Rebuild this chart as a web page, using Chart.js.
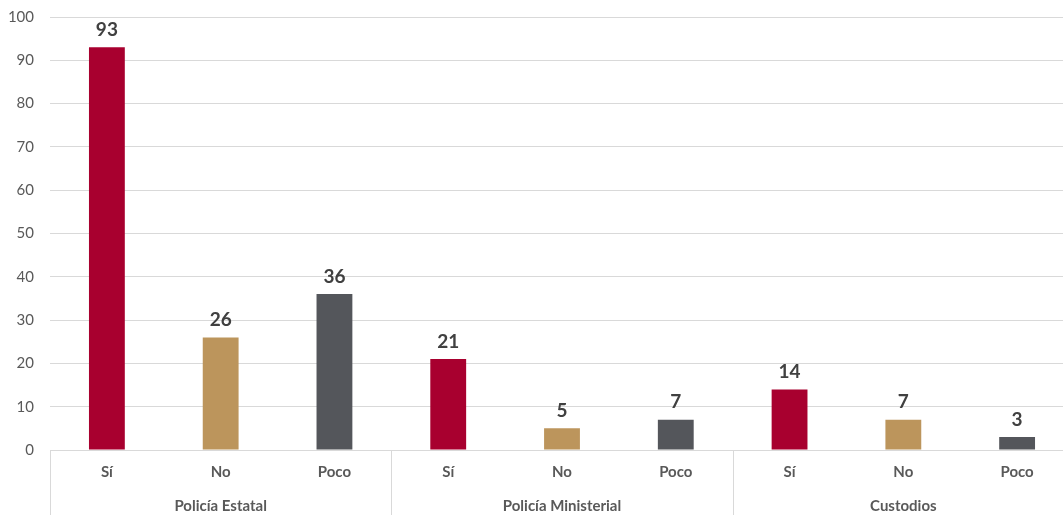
<!DOCTYPE html>
<html>
<head>
<meta charset="utf-8">
<script src="https://cdn.jsdelivr.net/npm/chart.js@4"></script>
<style>
  html, body { margin: 0; padding: 0; background: #fff; overflow: hidden; }
  #wrap { width: 1063px; height: 515px; overflow: hidden; }
</style>
</head>
<body>
<div id="wrap"><canvas id="grafica" width="1074" height="515"></canvas></div>
<script>
const categorias = ['Sí', 'No', 'Poco', 'Sí', 'No', 'Poco', 'Sí', 'No', 'Poco'];
const grupos = ['Policía Estatal', 'Policía Ministerial', 'Custodios'];
const valores = [93, 26, 36, 21, 5, 7, 14, 7, 3];
const colores = ['#A8002F', '#BC955C', '#54565B', '#A8002F', '#BC955C', '#54565B', '#A8002F', '#BC955C', '#54565B'];
const ticksY = [0, 10, 20, 30, 40, 50, 60, 70, 80, 90, 100];

const fuente = 'Lato, "Open Sans", sans-serif';

// etiquetas de valor encima de cada barra
const etiquetasValor = {
    id: 'etiquetasValor',
    afterDatasetsDraw(chart) {
        const ctx = chart.ctx;
        const meta = chart.getDatasetMeta(0);
        ctx.save();
        ctx.font = 'bold 19px ' + fuente;
        ctx.fillStyle = '#404040';
        ctx.textAlign = 'center';
        ctx.textBaseline = 'bottom';
        meta.data.forEach((barra, i) => {
            ctx.fillText(valores[i], barra.x, barra.y - 8);
        });
        ctx.restore();
    }
};

// eje x de dos niveles: categoría + grupo, con separadores
const ejeAgrupado = {
    id: 'ejeAgrupado',
    afterDraw(chart) {
        const ctx = chart.ctx;
        const x = chart.scales.x;
        const area = chart.chartArea;
        const abajo = chart.height;
        const paso = x.getPixelForValue(1) - x.getPixelForValue(0);
        ctx.save();
        ctx.strokeStyle = '#D9D9D9';
        ctx.lineWidth = 1;
        for (let g = 0; g <= grupos.length; g++) {
            const px = Math.round(x.getPixelForValue(g * 3) - paso / 2) + 0.5;
            ctx.beginPath();
            ctx.moveTo(px, area.bottom);
            ctx.lineTo(px, abajo);
            ctx.stroke();
        }
        ctx.fillStyle = '#595959';
        ctx.textAlign = 'center';
        ctx.textBaseline = 'middle';
        ctx.font = 'bold 15px ' + fuente;
        categorias.forEach((c, i) => {
            ctx.fillText(c, x.getPixelForValue(i), area.bottom + 22);
        });
        grupos.forEach((g, i) => {
            ctx.fillText(g, x.getPixelForValue(i * 3 + 1), area.bottom + 56);
        });
        ctx.restore();
    }
};

new Chart(document.getElementById('grafica').getContext('2d'), {
    type: 'bar',
    data: {
        labels: categorias,
        datasets: [{
            data: valores,
            backgroundColor: colores,
            barPercentage: 0.63,
            categoryPercentage: 0.5
        }]
    },
    options: {
        responsive: false,
        animation: false,
        layout: { padding: { top: 17, bottom: 57, right: 0, left: 0 } },
        plugins: { legend: { display: false }, tooltip: { enabled: false } },
        scales: {
            x: {
                grid: { display: false },
                border: { display: false },
                ticks: { display: false }
            },
            y: {
                min: 0,
                max: 100,
                afterBuildTicks: (eje) => { eje.ticks = ticksY.map(v => ({ value: v })); },
                afterFit: (eje) => {
                    eje.width = 50;
                    eje.paddingTop = 0;
                    eje.paddingBottom = 0;
                },
                grid: { color: '#D9D9D9', lineWidth: 1, drawTicks: false },
                border: { display: false },
                ticks: {
                    padding: 16,
                    color: '#595959',
                    font: { family: fuente, size: 15 }
                }
            }
        }
    },
    plugins: [etiquetasValor, ejeAgrupado]
});
</script>
</body>
</html>
